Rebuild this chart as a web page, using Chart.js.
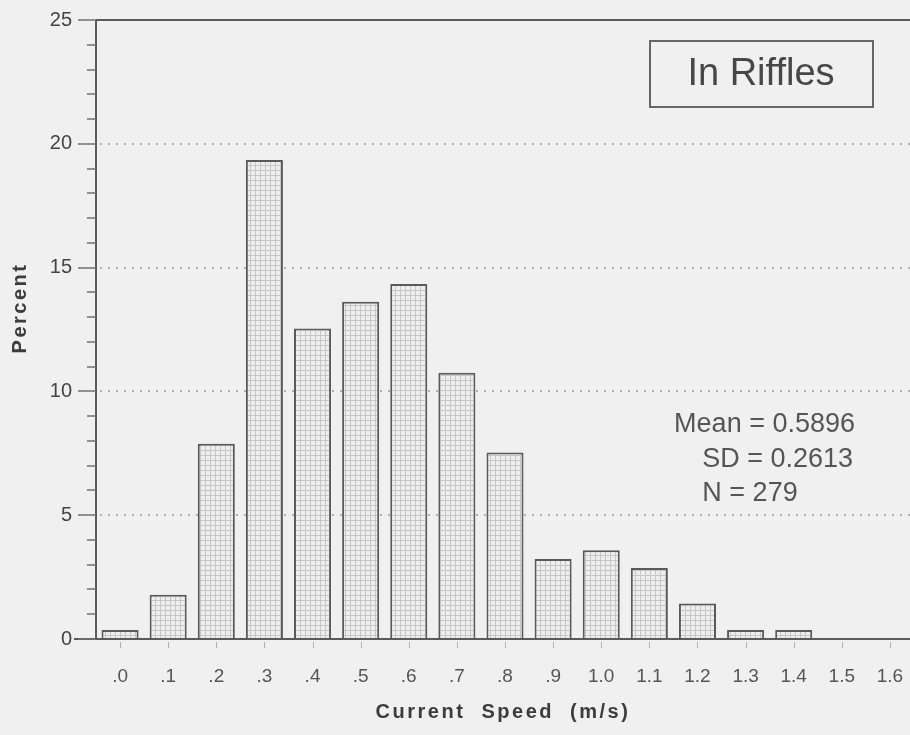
<!DOCTYPE html>
<html>
<head>
<meta charset="utf-8">
<script src="https://cdn.jsdelivr.net/npm/chart.js@4"></script>
<style>
  html, body { margin: 0; padding: 0; background: #f0f0f0; overflow: hidden; }
  #wrap { width: 914px; height: 735px; }
</style>
</head>
<body>
<div id="wrap"><canvas id="speedChart" width="914" height="735"></canvas></div>
<script>
// Current speed histogram, "In Riffles"
const speedLabels = ['.0', '.1', '.2', '.3', '.4', '.5', '.6', '.7', '.8', '.9', '1.0', '1.1', '1.2', '1.3', '1.4', '1.5', '1.6'];
const percentValues = [0.36, 1.79, 7.89, 19.35, 12.54, 13.62, 14.34, 10.75, 7.53, 3.23, 3.58, 2.87, 1.43, 0.36, 0.36, 0, 0];
const yTickValues = [0, 5, 10, 15, 20, 25];
const dottedGridValues = [5, 10, 15, 20];
const statLines = ['Mean = 0.5896', 'SD = 0.2613', 'N = 279'];
const boxLabel = 'In Riffles';

(function(){
  const ink = '#5a5a5a';

  // fine grid fill used inside the bars
  const tile = document.createElement('canvas');
  tile.width = 5; tile.height = 5;
  const tc = tile.getContext('2d');
  tc.fillStyle = '#eeeeee'; tc.fillRect(0, 0, 5, 5);
  tc.fillStyle = '#c6c6c6';
  tc.fillRect(0, 0, 5, 1);
  tc.fillRect(0, 0, 1, 5);
  const hatch = tc.createPattern(tile, 'repeat');

  const line = (ctx, x1, y1, x2, y2) => { ctx.beginPath(); ctx.moveTo(x1, y1); ctx.lineTo(x2, y2); ctx.stroke(); };

  const frame = {
    id: 'frame',
    beforeDatasetsDraw(chart){
      const {ctx, chartArea: a, scales: {y}} = chart;
      ctx.save();
      ctx.strokeStyle = '#9a9a9a';
      ctx.lineWidth = 1.5;
      ctx.setLineDash([2, 6]);
      dottedGridValues.forEach(v => { const py = Math.round(y.getPixelForValue(v)); line(ctx, a.left + 4, py, a.right, py); });
      ctx.restore();
    },
    afterDatasetsDraw(chart){
      const {ctx, chartArea: a, scales: {x, y}} = chart;
      ctx.save();
      ctx.strokeStyle = ink;
      ctx.lineWidth = 2;
      // axes and top frame
      line(ctx, a.left, a.top, a.left, a.bottom);
      line(ctx, a.left, a.top, a.right, a.top);
      line(ctx, a.left - 22, a.bottom, a.right, a.bottom);
      // y ticks: major every 5, minor every 1
      ctx.lineWidth = 1.5;
      ctx.strokeStyle = '#707070';
      for (let v = 0; v <= 25; v++){
        const py = Math.round(y.getPixelForValue(v));
        line(ctx, a.left - (v % 5 === 0 ? 18 : 9), py, a.left, py);
      }
      // small x ticks below the axis
      ctx.strokeStyle = '#b0b0b0';
      ctx.lineWidth = 1;
      speedLabels.forEach((_, i) => { const px = Math.round(x.getPixelForValue(i)) + 0.5; line(ctx, px, a.bottom + 3, px, a.bottom + 9); });

      // "In Riffles" box
      ctx.strokeStyle = '#666';
      ctx.lineWidth = 2;
      ctx.strokeRect(650, 41, 223, 66);
      ctx.fillStyle = '#474747';
      ctx.font = '38px "Liberation Sans", Arial, sans-serif';
      ctx.textAlign = 'center';
      ctx.textBaseline = 'middle';
      ctx.fillText(boxLabel, 761, 75);

      // summary statistics
      ctx.fillStyle = '#555';
      ctx.font = '27px "Liberation Sans", Arial, sans-serif';
      ctx.textAlign = 'right';
      ctx.fillText(statLines[0], 855, 425);
      ctx.fillText(statLines[1], 853, 460);
      ctx.textAlign = 'center';
      ctx.fillText(statLines[2], 750, 494);

      // axis titles
      ctx.fillStyle = '#3c3c3c';
      ctx.font = 'bold 20px "Liberation Sans", Arial, sans-serif';
      ctx.letterSpacing = '2.5px';
      ctx.textAlign = 'center';
      ctx.fillText('Current  Speed  (m/s)', 503, 712);
      ctx.translate(20, 308);
      ctx.rotate(-Math.PI / 2);
      ctx.fillText('Percent', 0, 0);
      ctx.restore();
    }
  };

  new Chart(document.getElementById('speedChart'), {
    type: 'bar',
    data: {
      labels: speedLabels,
      datasets: [{
        data: percentValues,
        backgroundColor: hatch,
        borderColor: ink,
        borderWidth: 2,
        borderSkipped: 'bottom',
        categoryPercentage: 1,
        barPercentage: 0.77
      }]
    },
    options: {
      responsive: false,
      animation: false,
      layout: { padding: { top: 20, left: 0, right: 0, bottom: 0 } },
      plugins: { legend: { display: false }, tooltip: { enabled: false } },
      scales: {
        x: {
          grid: { display: true, drawOnChartArea: false, drawTicks: true, tickLength: 26, tickColor: 'transparent' },
          border: { display: false },
          ticks: { color: '#555', padding: 0, maxRotation: 0, autoSkip: false, font: { family: '"Liberation Sans", Arial, sans-serif', size: 19 } },
          afterFit: s => { s.height = 96; }
        },
        y: {
          min: 0, max: 25,
          afterBuildTicks: s => { s.ticks = yTickValues.map(v => ({ value: v })); },
          grid: { display: true, drawOnChartArea: false, drawTicks: true, tickLength: 24, tickColor: 'transparent' },
          border: { display: false },
          ticks: { color: '#444', padding: 0, font: { family: '"Liberation Sans", Arial, sans-serif', size: 20 } },
          afterFit: s => { s.width = 96; }
        }
      }
    },
    plugins: [frame]
  });
})();
</script>
</body>
</html>
